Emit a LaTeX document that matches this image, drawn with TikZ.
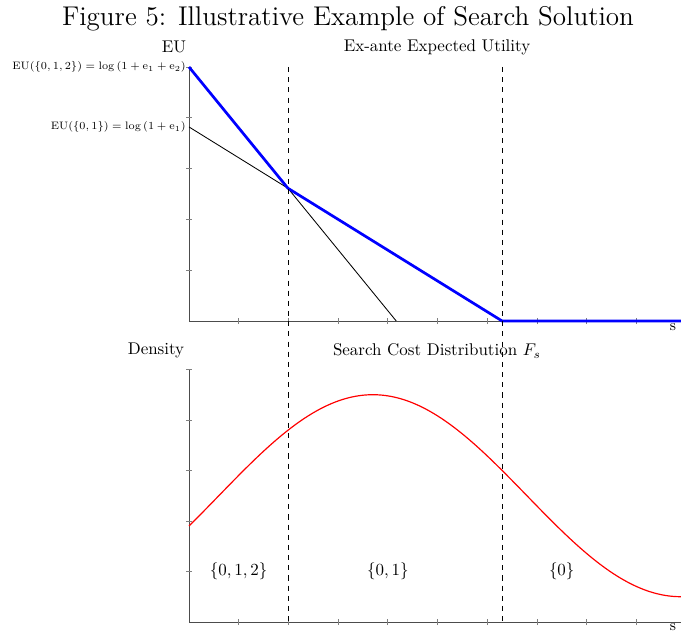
\documentclass[tikz,border=0pt]{standalone}
\usepackage{amsmath}
\begin{document}
\begin{tikzpicture}[x=0.59pt, y=0.59pt,
		axis/.style={draw=black!70, line width=0.5pt},
		tick/.style={draw=black!50, line width=0.4pt},
		divider/.style={dashed, line width=0.5pt},
		eulabel/.style={anchor=east, font=\scriptsize, inner sep=2pt, scale=0.91, transform shape},
		setlabel/.style={font=\normalsize}]
	\useasboundingbox (0,0) rectangle (681,632);
	\node[scale=1.11, transform shape] (title) at (348,613) {\Large Figure 5: Illustrative Example of Search Solution};

	% upper panel: expected utility
	\begin{scope}[shift={(189,311)}, x=29.32pt, y=29.97pt]
		\coordinate (o1) at (0,0);
		\coordinate (y1) at (0,5);
		\coordinate (x1) at (9.9,0);
		\draw[axis] (y1) -- (o1) -- (x1);
		\foreach \i in {1,...,9} \draw[tick] (\i,-0.06) -- (\i,0.06);
		\foreach \j in {1,...,5} \draw[tick] (-0.06,\j) -- (0.06,\j);
		\coordinate (a0) at (0,5);
		\coordinate (a1) at (4.17,0);
		\coordinate (b0) at (0,3.82);
		\coordinate (b1) at (6.3,0);
		\draw[line width=0.5pt] (a0) -- (a1);
		\draw[line width=0.5pt] (b0) -- (b1);
		\coordinate (kink) at (intersection of a0--a1 and b0--b1);
		\draw[blue, line width=1.6pt] (a0) -- (kink) -- (b1) -- (x1);
		\node[eulabel] (eu012) at (a0) {$\mathrm{EU}(\{0,1,2\})=\log\left(1+\mathrm{e}_1+\mathrm{e}_2\right)$};
		\node[eulabel] (eu01) at (b0) {$\mathrm{EU}(\{0,1\})=\log\left(1+\mathrm{e}_1\right)$};
		\coordinate (d1t) at (2,5);
		\coordinate (d2t) at (6.3,5);
	\end{scope}
	\node (eu) at (174,585) {EU};
	\node (toptitle) at (437,585) {Ex-ante Expected Utility};
	\node[font=\small] (s1) at (673,305) {s};

	% lower panel: search cost density
	\begin{scope}[shift={(189,10)}, x=29.32pt, y=29.8pt]
		\coordinate (o2) at (0,0);
		\coordinate (y2) at (0,5);
		\coordinate (x2) at (9.9,0);
		\draw[axis] (y2) -- (o2) -- (x2);
		\foreach \i in {1,...,9} \draw[tick] (\i,-0.06) -- (\i,0.06);
		\foreach \j in {1,...,5} \draw[tick] (-0.06,\j) -- (0.06,\j);
		\draw[red, line width=0.7pt, domain=0:9.9, samples=80, smooth]
			plot (\x, {2.5+2*cos(180*(\x-3.7)/6.2)});
		\node[setlabel] (set012) at (1,1) {$\{0,1,2\}$};
		\node[setlabel] (set01) at (4,1) {$\{0,1\}$};
		\node[setlabel] (set0) at (7.5,1) {$\{0\}$};
		\coordinate (d1b) at (2,0);
		\coordinate (d2b) at (6.3,0);
	\end{scope}
	\node (density) at (156,282) {Density};
	\node (bottitle) at (437,281) {Search Cost Distribution $F_s$};
	\node[font=\small, anchor=south, inner sep=0.5pt] (s2) at (673,0) {s};

	\draw[divider] (d1t) -- (d1b);
	\draw[divider] (d2t) -- (d2b);
\end{tikzpicture}
\end{document}
